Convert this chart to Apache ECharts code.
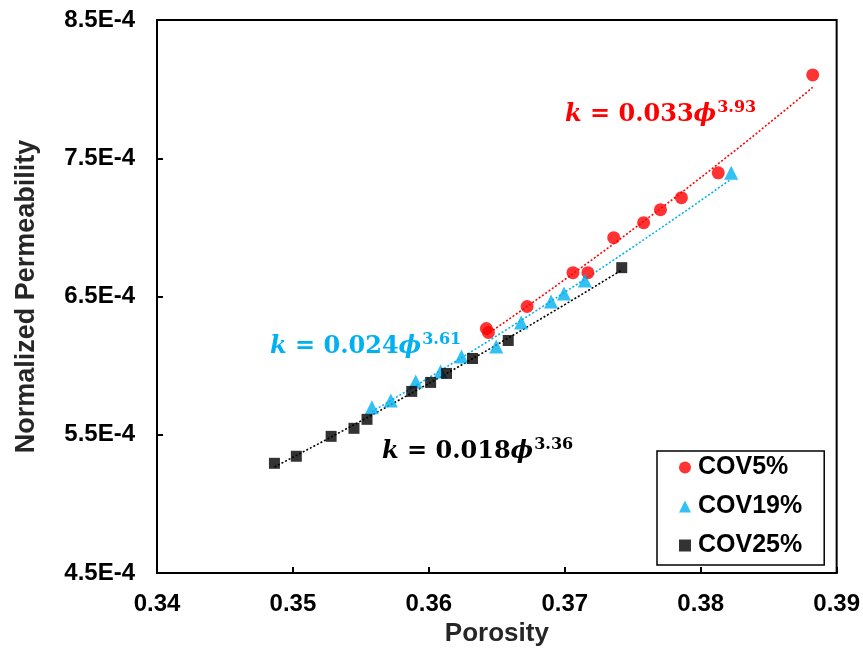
<!DOCTYPE html>
<html>
<head>
<meta charset="utf-8">
<script src="https://cdn.jsdelivr.net/npm/echarts@6/dist/echarts.min.js"></script>
<style>
html,body{margin:0;padding:0;background:#fff;}
#c{width:863px;height:652px;}
</style>
</head>
<body>
<div id="c"></div>
<script>
// Data
const seriesNames = ['COV5%', 'COV19%', 'COV25%'];
const cov5X = [0.36423, 0.36438, 0.36723, 0.37060, 0.37170, 0.37360, 0.37580, 0.37704, 0.37858, 0.38129, 0.38824];
const cov5Y = [6.269e-4, 6.240e-4, 6.428e-4, 6.673e-4, 6.673e-4, 6.926e-4, 7.034e-4, 7.128e-4, 7.215e-4, 7.395e-4, 8.103e-4];
const cov19X = [0.35581, 0.35720, 0.35903, 0.36086, 0.36240, 0.36496, 0.36679, 0.36899, 0.36994, 0.37148, 0.38224];
const cov19Y = [5.699e-4, 5.749e-4, 5.886e-4, 5.958e-4, 6.067e-4, 6.139e-4, 6.312e-4, 6.464e-4, 6.522e-4, 6.616e-4, 7.395e-4];
const cov25X = [0.34864, 0.35025, 0.35281, 0.35449, 0.35545, 0.35874, 0.36013, 0.36130, 0.36321, 0.36584, 0.37419];
const cov25Y = [5.294e-4, 5.345e-4, 5.489e-4, 5.547e-4, 5.612e-4, 5.814e-4, 5.879e-4, 5.944e-4, 6.052e-4, 6.182e-4, 6.709e-4];
const fitLabels = [
  {coef: '0.033', exp: '3.93'},
  {coef: '0.024', exp: '3.61'},
  {coef: '0.018', exp: '3.36'}
];
const colors = ['#FF0000', '#00B0F0', '#000000'];

function pairs(xs, ys){ return xs.map((x,i)=>[x, ys[i]]); }
// power-law least squares fit (trendline) of the data
function powerFit(xs, ys){
  const n = xs.length;
  let sx=0, sy=0, sxx=0, sxy=0;
  for(let i=0;i<n;i++){
    const lx=Math.log(xs[i]), ly=Math.log(ys[i]);
    sx+=lx; sy+=ly; sxx+=lx*lx; sxy+=lx*ly;
  }
  const b=(n*sxy-sx*sy)/(n*sxx-sx*sx);
  const a=Math.exp((sy-b*sx)/n);
  const lo=Math.min(...xs), hi=Math.max(...xs);
  const pts=[];
  const N=40;
  for(let i=0;i<=N;i++){
    const x=lo+(hi-lo)*i/N;
    pts.push([x, a*Math.pow(x,b)]);
  }
  return pts;
}

const sets = [[cov5X,cov5Y],[cov19X,cov19Y],[cov25X,cov25Y]];
const symbols = ['circle','triangle','rect'];
const sizes = [13,14,11];

const series = [];
sets.forEach((s,i)=>{
  series.push({
    name: seriesNames[i] + ' fit',
    type: 'line',
    data: powerFit(s[0], s[1]),
    showSymbol: false,
    silent: true,
    lineStyle: {color: colors[i], width: 1.6, type: [2,2]},
    z: 1
  });
});
sets.forEach((s,i)=>{
  series.push({
    name: seriesNames[i],
    type: 'scatter',
    data: pairs(s[0], s[1]),
    symbol: symbols[i],
    symbolSize: sizes[i],
    itemStyle: {color: colors[i]},
    z: 3
  });
});

function eqText(i){
  return '{k|k}{n| = ' + fitLabels[i].coef + '}{p|ϕ}{s|' + fitLabels[i].exp + '}';
}
function rich(color){
  return {
    k: {fontFamily: 'DejaVu Serif', fontStyle: 'italic', fontWeight: 'bold', fontSize: 24, fill: color, color: color},
    n: {fontFamily: 'DejaVu Serif', fontWeight: 'bold', fontSize: 24, fill: color, color: color},
    p: {fontFamily: 'DejaVu Serif', fontStyle: 'italic', fontWeight: 'bold', fontSize: 24, fill: color, color: color},
    s: {fontFamily: 'DejaVu Serif', fontWeight: 'bold', fontSize: 16, fill: color, color: color, verticalAlign: 'top', padding: [0,0,13,1]}
  };
}

const chart = echarts.init(document.getElementById('c'), null, {renderer: 'canvas'});
chart.setOption({
  animation: false,
  backgroundColor: '#fff',
  grid: {left: 157, right: 23, top: 20, bottom: 78, show: true, borderColor: '#000', borderWidth: 2, backgroundColor: 'transparent'},
  legend: {
    data: seriesNames,
    orient: 'vertical',
    left: 657, top: 451,
    padding: [4, 22, 7, 22],
    itemGap: 14,
    itemWidth: 12, itemHeight: 12,
    borderColor: '#000', borderWidth: 1.5,
    backgroundColor: '#fff',
    textStyle: {fontFamily: 'Liberation Sans', fontWeight: 'bold', fontSize: 25, color: '#000', padding: [0,0,0,2]}
  },
  xAxis: {
    type: 'value', min: 0.34, max: 0.39, interval: 0.01,
    name: 'Porosity', nameLocation: 'middle', nameGap: 46,
    nameTextStyle: {fontFamily: 'Liberation Sans', fontWeight: 'bold', fontSize: 26, color: '#262626'},
    axisLine: {show: true, lineStyle: {color: '#000', width: 2}},
    axisTick: {show: true, inside: true, length: 6, lineStyle: {color: '#000', width: 2}},
    splitLine: {show: false},
    axisLabel: {fontFamily: 'Liberation Sans', fontWeight: 'bold', fontSize: 24, color: '#000', margin: 19,
      formatter: v => v.toFixed(2)}
  },
  yAxis: {
    type: 'value', min: 4.5e-4, max: 8.5e-4, interval: 1e-4,
    name: 'Normalized Permeability', nameLocation: 'middle', nameGap: 117,
    nameTextStyle: {fontFamily: 'Liberation Sans', fontWeight: 'bold', fontSize: 27, color: '#262626'},
    axisLine: {show: true, lineStyle: {color: '#000', width: 2}},
    axisTick: {show: true, inside: true, length: 6, lineStyle: {color: '#000', width: 2}},
    splitLine: {show: false},
    axisLabel: {fontFamily: 'Liberation Sans', fontWeight: 'bold', fontSize: 24, color: '#000', margin: 22,
      formatter: v => (v*1e4).toFixed(1) + 'E-4'}
  },
  graphic: [
    {type: 'text', left: 565, top: 100, style: {text: eqText(0), rich: rich(colors[0])}, z: 10},
    {type: 'text', left: 270, top: 332, style: {text: eqText(1), rich: rich(colors[1])}, z: 10},
    {type: 'text', left: 382, top: 437, style: {text: eqText(2), rich: rich(colors[2])}, z: 10}
  ],
  series: series
});
</script>
</body>
</html>
